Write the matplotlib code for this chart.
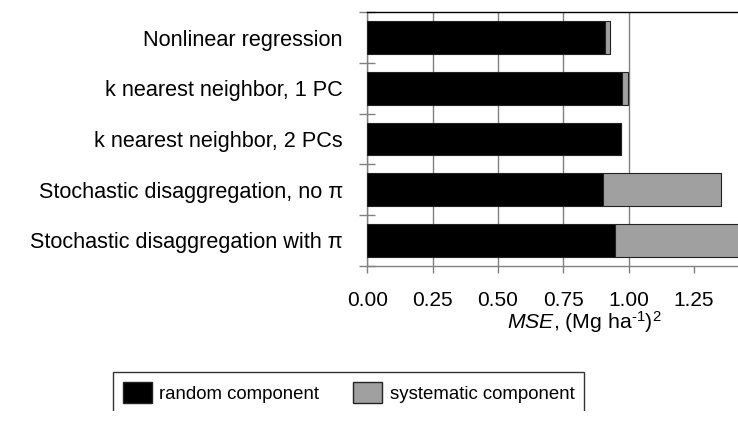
import matplotlib
matplotlib.use("Agg")
import matplotlib.pyplot as plt
import numpy as np
from matplotlib.patches import Patch
from matplotlib.transforms import Bbox, TransformedBbox

methods = [
    "Nonlinear regression",
    "k nearest neighbor, 1 PC",
    "k nearest neighbor, 2 PCs",
    "Stochastic disaggregation, no \u03c0",
    "Stochastic disaggregation with \u03c0",
]
random_part = [0.908, 0.975, 0.971, 0.902, 0.947]
systematic_part = [0.021, 0.021, 0.0, 0.452, 0.52]
xticks = [0.0, 0.25, 0.5, 0.75, 1.0, 1.25]

plt.rcParams.update(
    {
        "font.family": ["Liberation Sans", "DejaVu Sans"],
        "mathtext.fontset": "custom",
        "mathtext.rm": "Liberation Sans",
        "mathtext.it": "Liberation Sans:italic",
        "mathtext.bf": "Liberation Sans:bold",
    }
)

fig = plt.figure(figsize=(7.38, 4.23), dpi=100)
ax = fig.add_axes([367.3 / 738, 1 - 265.7 / 423, 1 - 367.3 / 738, (265.7 - 12.3) / 423])

y = np.arange(len(methods))
ax.barh(y, random_part, height=0.65, color="black", edgecolor="#222222", linewidth=0.8, zorder=3)
ax.barh(y, systematic_part, height=0.65, left=random_part, color="#a0a0a0",
        edgecolor="#222222", linewidth=0.8, zorder=3)

ax.set_xlim(0, 1.418)
ax.set_ylim(len(methods) - 0.5, -0.5)
ax.set_xticks(xticks, [f"{t:.2f}" for t in xticks])
ax.set_yticks(y, methods)
ax.set_yticks(np.arange(len(methods) + 1) - 0.5, minor=True)

ax.tick_params(axis="y", which="major", length=0, pad=17.5, labelsize=15.6)
ax.tick_params(axis="y", which="minor", direction="inout", length=11.5, width=1, color="#808080")
ax.tick_params(axis="x", length=5, width=1, color="#808080", pad=13, labelsize=15)

ax.grid(axis="x", color="#808080", linewidth=1, zorder=0)
ax.xaxis.get_gridlines()[-1].set_visible(False)

ax.spines["right"].set_visible(False)
ax.spines["top"].set_color("black")
ax.spines["left"].set_color("#808080")
ax.spines["bottom"].set_color("#808080")
for s in ax.spines.values():
    s.set_linewidth(1)

ax.set_xlabel(r"$\mathit{MSE}$, (Mg ha$^{\text{-1}}$)$^{\mathregular{2}}$", fontsize=15.3,
              va="baseline")
ax.xaxis.set_label_coords((584 - 367.3) / (738 - 367.3), -(329 - 265.7) / 253.4)

handles = [
    Patch(facecolor="black", edgecolor="#222222", label="random component"),
    Patch(facecolor="#a0a0a0", edgecolor="#222222", label="systematic component"),
]
leg = fig.legend(
    handles=handles,
    loc="upper left",
    bbox_to_anchor=(113 / 738, 1 - 372 / 423),
    ncols=2,
    frameon=True,
    fancybox=False,
    edgecolor="black",
    fontsize=13.4,
    handlelength=1.56,
    handleheight=1.34,
    handletextpad=0.38,
    columnspacing=1.83,
    borderpad=0.55,
    borderaxespad=0,
)
leg.get_frame().set_linewidth(1)
# the reference crops the bottom edge of the legend box
leg.get_frame().set_clip_box(TransformedBbox(Bbox([[0, 12 / 423], [1, 1]]), fig.transFigure))

fig.savefig("out.png", dpi=100)
